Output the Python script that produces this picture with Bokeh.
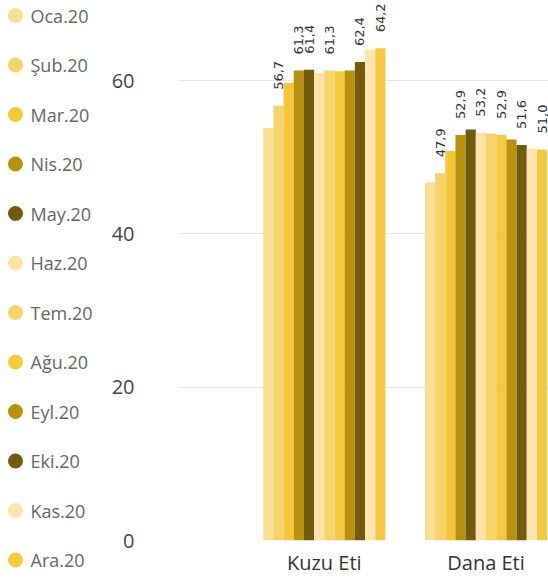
import math
from bokeh.plotting import figure
from bokeh.layouts import row
from bokeh.models import ColumnDataSource, Range1d, FixedTicker
from bokeh.transform import dodge
from bokeh.core.properties import value
from bokeh.embed import file_html
from bokeh.resources import INLINE

categories = ["Kuzu Eti", "Dana Eti"]
months = ["Oca.20", "Şub.20", "Mar.20", "Nis.20", "May.20", "Haz.20",
          "Tem.20", "Ağu.20", "Eyl.20", "Eki.20", "Kas.20", "Ara.20"]
kuzu = [53.8, 56.7, 59.7, 61.3, 61.4, 61.0, 61.3, 61.2, 61.3, 62.4, 64.0, 64.2]
dana = [46.7, 47.9, 50.8, 52.9, 53.6, 53.2, 53.1, 52.9, 52.3, 51.6, 51.1, 51.0]
# data labels that are visible in the original (others hidden by overlap)
kuzu_shown = [0, 1, 0, 1, 1, 0, 1, 0, 0, 1, 0, 1]
dana_shown = [0, 1, 0, 1, 0, 1, 0, 1, 0, 1, 0, 1]
y_ticks = [0, 20, 40, 60]
colors = ["#F9DE94", "#F5D26C", "#F6C63A", "#B8920F", "#735A0E", "#FDE4A6",
          "#F6D469", "#F4C942", "#B8920F", "#735A0E", "#FDE5AB", "#F4C842"]

FONT = "Open Sans"
LABEL_FONT = "DejaVu Sans"
H = 583
W_LEG = 108
W_MAIN = 440
BORDER_LEFT = 67          # main figure: frame starts at 108 + 67 = 175
BOTTOM = 43
FRAME_W = W_MAIN - BORDER_LEFT
FRAME_H = H - BOTTOM
CAT_PX = 163.0            # pixels per category
PX_PER_UNIT = 460 / 60    # y scale
KUZU_CENTER = 322 - (W_LEG + BORDER_LEFT)

series = [kuzu, dana]
shown = [kuzu_shown, dana_shown]

# ---------------- main chart ----------------
x0 = -KUZU_CENTER / CAT_PX
bw = 10.27 / CAT_PX
p = figure(width=W_MAIN, height=H,
           x_range=Range1d(x0, x0 + FRAME_W / CAT_PX),
           y_range=Range1d(0, FRAME_H / PX_PER_UNIT),
           output_backend="svg", toolbar_location=None,
           min_border_left=BORDER_LEFT, min_border_right=0,
           min_border_top=0, min_border_bottom=BOTTOM)
p.frame_align = False
p.outline_line_color = None
p.background_fill_color = "white"

data = {"xi": list(range(len(categories)))}
for i, m in enumerate(months):
    data[f"m{i}"] = [s[i] for s in series]
src = ColumnDataSource(data)

for i, m in enumerate(months):
    p.vbar(x=dodge("xi", (i - (len(months) - 1) / 2) * bw, range=p.x_range),
           top=f"m{i}", width=bw, source=src,
           fill_color=colors[i], line_color=None)

lx, ly, lt = [], [], []
for c, s in enumerate(series):
    for i, v in enumerate(s):
        if shown[c][i]:
            lx.append(c + (i - (len(months) - 1) / 2) * bw)
            ly.append(v)
            lt.append(f"{v:.1f}".replace(".", ","))
lab_src = ColumnDataSource(dict(x=lx, y=ly, t=lt))
p.text(x="x", y="y", text="t", source=lab_src, angle=math.pi / 2,
       text_align="left", text_baseline="middle", y_offset=-16,
       text_font=value(LABEL_FONT), text_font_size="13px", text_color="#333333")

p.xaxis.ticker = FixedTicker(ticks=list(range(len(categories))))
p.xaxis.major_label_overrides = {i: c for i, c in enumerate(categories)}
p.xaxis.major_label_text_font = FONT
p.xaxis.major_label_text_font_size = "20px"
p.xaxis.major_label_text_color = "#333333"
p.xaxis.major_label_standoff = 2
p.xaxis.axis_line_color = None
p.xaxis.major_tick_line_color = None
p.xaxis.minor_tick_line_color = None

p.yaxis.ticker = FixedTicker(ticks=y_ticks)
p.yaxis.major_label_text_font = FONT
p.yaxis.major_label_text_font_size = "20px"
p.yaxis.major_label_text_color = "#444444"
p.yaxis.major_label_standoff = 38
p.yaxis.axis_line_color = None
p.yaxis.major_tick_line_color = None
p.yaxis.minor_tick_line_color = None

p.xgrid.grid_line_color = None
p.ygrid.ticker = FixedTicker(ticks=y_ticks)
p.ygrid.grid_line_color = "#E6E6E6"
p.ygrid.grid_line_width = 1

# ---------------- legend (separate figure on the left) ----------------
step = 49.5
first = 15
leg = figure(width=W_LEG, height=H,
             x_range=Range1d(0, W_LEG),
             y_range=Range1d((H - first) / step, -first / step),
             output_backend="svg", toolbar_location=None,
             x_axis_location=None, y_axis_location=None,
             min_border=0, min_border_left=0, min_border_right=0,
             min_border_top=0, min_border_bottom=0)
leg.frame_align = False
leg.outline_line_color = None
leg.grid.visible = False
leg_src = ColumnDataSource(dict(y=list(range(len(months))), m=months, c=colors))
leg.scatter(x=15, y="y", size=15, fill_color="c", line_color=None, source=leg_src)
leg.text(x=30, y="y", text="m", source=leg_src, text_baseline="middle",
         text_align="left", text_font=value(FONT), text_font_size="18px",
         text_color="#666666")

layout = row(leg, p)
open("out.html", "w").write(file_html(layout, INLINE))
